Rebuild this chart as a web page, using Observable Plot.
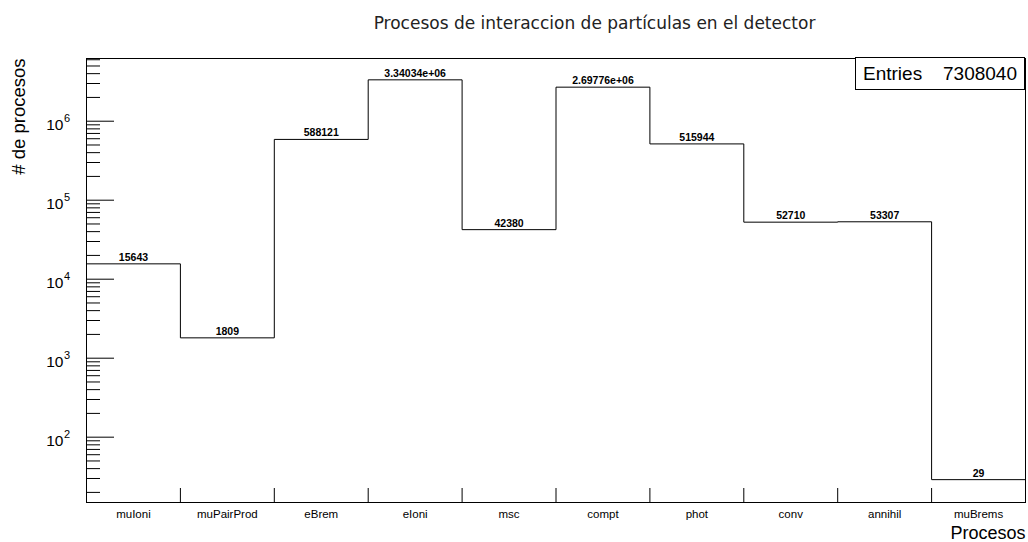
<!DOCTYPE html>
<html><head><meta charset="utf-8">
<script src="https://cdn.jsdelivr.net/npm/d3@7"></script>
<script src="https://cdn.jsdelivr.net/npm/@observablehq/plot@0.6"></script>
<style>
body{margin:0;background:#fff;}
#wrap{position:relative;width:1028px;height:542px;}
#stats{position:absolute;left:855px;top:57px;width:170px;height:33px;border:1px solid #000;background:#fff;
 font-family:'Liberation Sans',Arial,sans-serif;font-size:19px;color:#000;display:flex;justify-content:space-between;align-items:center;padding:0 7px 0 7px;box-sizing:border-box;}
</style></head><body><div id="wrap"></div>
<script>
const title = "Procesos de interaccion de partículas en el detector";
const xTitle = "Procesos";
const yTitle = "# de procesos";
const categories = ["muIoni","muPairProd","eBrem","eIoni","msc","compt","phot","conv","annihil","muBrems"];
const counts = [15643,1809,588121,3340340,42380,2697760,515944,52710,53307,29];
const entriesLabel = "Entries";
const entries = 7308040;
const yExponents = [2,3,4,5,6];
const yDomain = [14.9, 6.22e6];

const fmtG = v => v >= 1e6 ? v.toExponential(5).replace(/e\+(\d)$/, "e+0$1") : String(v);
const rows = categories.map((c, i) => ({i, cat: c, v: counts[i]}));
const stepData = rows.map(r => ({x: r.i, y: r.v})).concat([{x: categories.length, y: counts[counts.length - 1]}]);
const majorTicks = yExponents.map(e => 10 ** e);
const minorTicks = d3.range(1, 7).flatMap(e => d3.range(2, 10).map(m => m * 10 ** e))
  .filter(v => v >= yDomain[0] && v <= yDomain[1]);
const boundaries = d3.range(1, categories.length);
const centers = categories.map((c, i) => i + 0.5);

const chart = Plot.plot({
  width: 1028, height: 542,
  marginTop: 58, marginBottom: 40, marginLeft: 86, marginRight: 3,
  style: {fontFamily: "'Liberation Sans', Arial, sans-serif", background: "white", color: "black"},
  x: {domain: [0, categories.length]},
  y: {type: "log", domain: yDomain},
  marks: [
    Plot.axisY(minorTicks, {tickSize: -14, tickFormat: () => "", label: null}),
    Plot.axisY(majorTicks, {tickSize: -28, tickFormat: () => "", label: null}),
    Plot.axisX(boundaries, {tickSize: -14, tickFormat: () => "", label: null}),
    Plot.axisX(centers, {tickSize: 0, tickPadding: 7.3, tickFormat: d => categories[Math.floor(d)], fontSize: 11.5, label: null}),
    Plot.line(stepData, {x: "x", y: "y", curve: "step-after", stroke: "black", strokeWidth: 1}),
    Plot.text(rows, {x: d => d.i + 0.5, y: "v", text: d => fmtG(d.v), dy: -3, lineAnchor: "bottom", fontWeight: "bold", fontSize: 10.5}),
    Plot.text(yExponents, {y: e => 10 ** e, frameAnchor: "left", text: () => "10", textAnchor: "end", dx: -23, dy: 8.5, lineAnchor: "bottom", fontSize: 15.5}),
    Plot.text(yExponents, {y: e => 10 ** e, frameAnchor: "left", text: e => String(e), textAnchor: "start", dx: -22.5, dy: 1, lineAnchor: "bottom", fontSize: 11}),
    Plot.frame({stroke: "black"}),
    Plot.text([title], {frameAnchor: "top", text: d => d, dx: 38.5, dy: -30, lineAnchor: "bottom", fontFamily: "'DejaVu Sans'", fontSize: 17, fill: "#222"}),
    Plot.text([xTitle], {frameAnchor: "bottom-right", text: d => d, dy: 36, textAnchor: "end", lineAnchor: "bottom", fontSize: 18}),
    Plot.text([yTitle], {frameAnchor: "top-left", text: d => d, rotate: -90, textAnchor: "end", lineAnchor: "bottom", dx: -61.5, fontSize: 18.5})
  ]
});
const wrap = document.getElementById("wrap");
wrap.appendChild(chart);
const stats = document.createElement("div");
stats.id = "stats";
stats.innerHTML = `<span>${entriesLabel}</span><span>${entries}</span>`;
wrap.appendChild(stats);
</script></body></html>
